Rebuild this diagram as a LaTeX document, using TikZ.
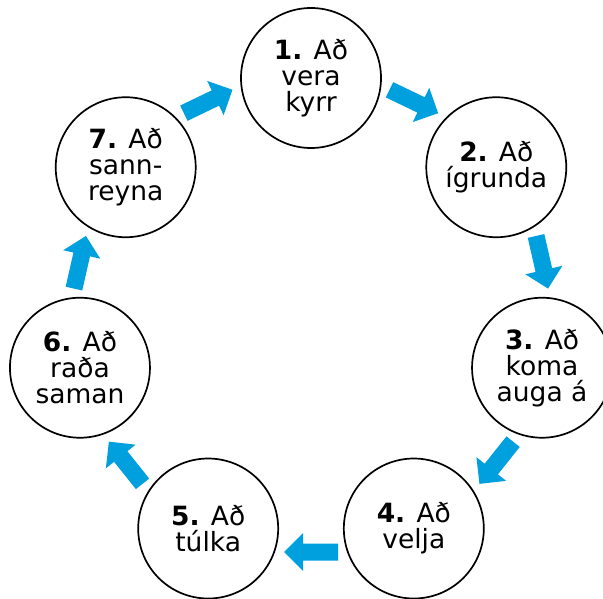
\documentclass[tikz,border=0pt]{standalone}
\usepackage{fontspec}
\setmainfont{DejaVu Sans}
\usetikzlibrary{calc}
\definecolor{arrowblue}{RGB}{0,160,223}
\tikzset{
  stepcirc/.style={circle, draw=black, line width=1.7pt, minimum size=140pt, inner sep=0pt,
    align=center, font=\fontsize{26.5}{26}\selectfont},
  barrow/.pic={\fill[arrowblue] (-27,-8.5) -- (8,-8.5) -- (8,-19) -- (27,0) -- (8,19) -- (8,8.5) -- (-27,8.5) -- cycle;}
}
\begin{document}
\begin{tikzpicture}[x=1pt,y=1pt]
\useasboundingbox (0,0) rectangle (603,598);
\coordinate (ctr) at (311,283);
\def\R{237}
\node[stepcirc] (s1) at ($(ctr)+(90:\R)$) {\textbf{1.} Að\\vera\\kyrr};
\node[stepcirc] (s2) at ($(ctr)+({90-360/7}:\R)$) {\textbf{2.} Að\\ígrunda};
\node[stepcirc] (s3) at ($(ctr)+({90-2*360/7}:\R)$) {\textbf{3.} Að\\koma\\auga á};
\node[stepcirc] (s4) at ($(ctr)+({90-3*360/7}:\R)$) {\textbf{4.} Að\\velja};
\node[stepcirc] (s5) at ($(ctr)+({90-4*360/7}:\R)$) {\textbf{5.} Að\\túlka};
\node[stepcirc] (s6) at ($(ctr)+({90-5*360/7}:\R)$) {\textbf{6.} Að\\raða\\saman};
\node[stepcirc] (s7) at ($(ctr)+({90-6*360/7}:\R)$) {\textbf{7.} Að\\sann-\\reyna};
\foreach \k in {0,...,6}{
  \pgfmathsetmacro{\ang}{90-(\k+0.5)*360/7}
  \pic[rotate=\ang-90] at ($(ctr)+(\ang:\R)$) {barrow};
}
\end{tikzpicture}
\end{document}
